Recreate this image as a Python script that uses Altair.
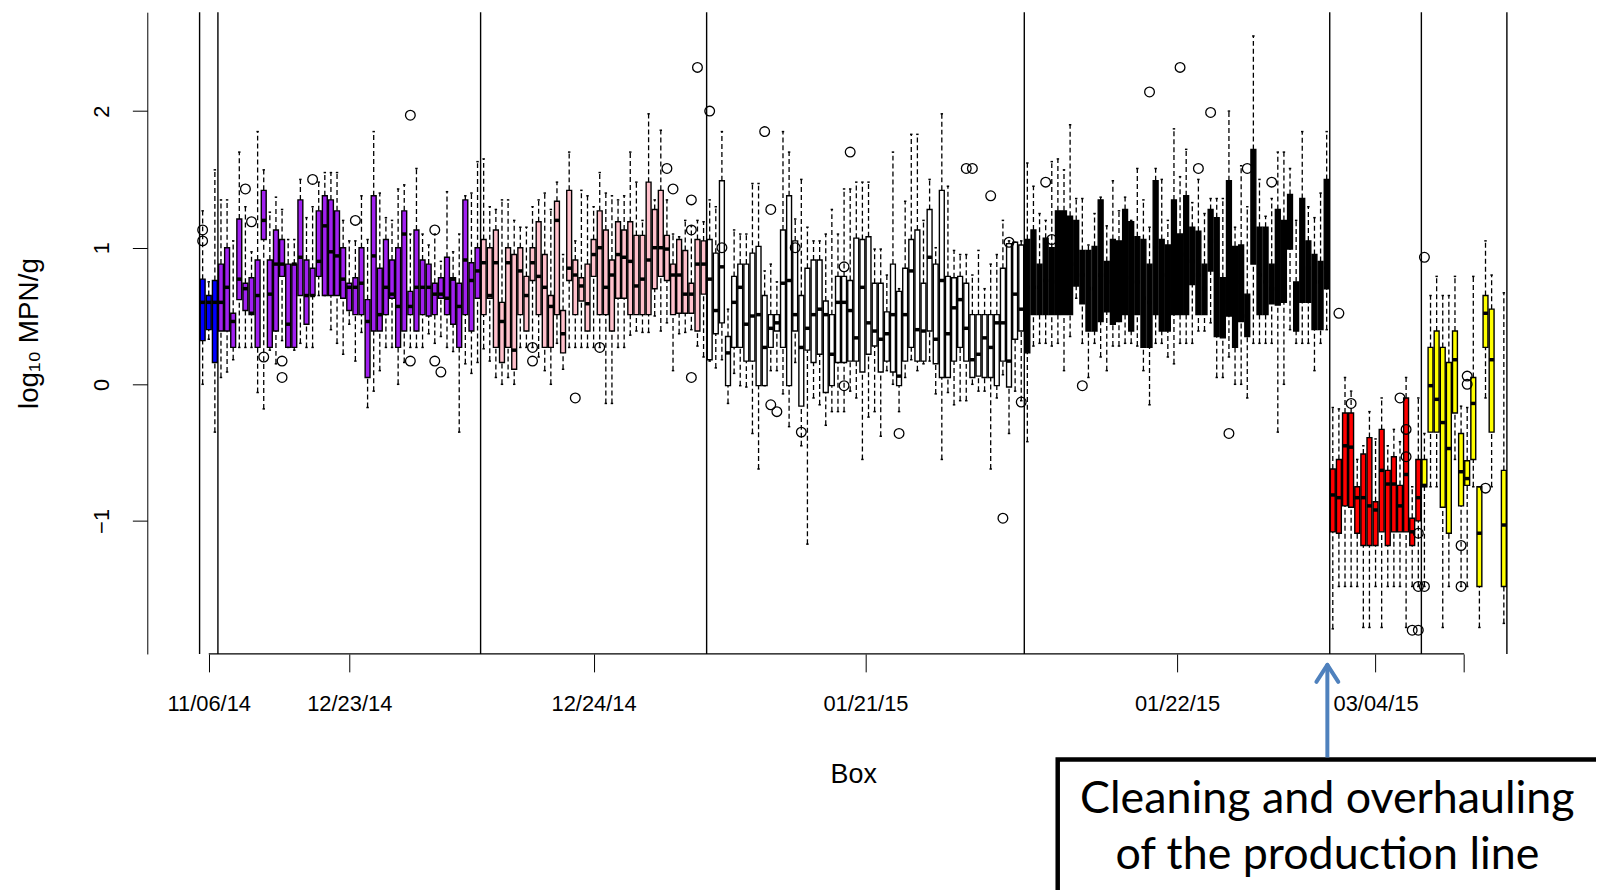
import altair as alt
import pandas as pd

# ---------------- data ----------------
GROUP_KEYS = ["blue", "purple", "pink", "white", "black", "red", "yellow"]
GROUP_COLORS = ["#0000FF", "#A020F0", "#FFC0CB", "#FFFFFF", "#000000", "#FF0000", "#FFFF00"]
GROUP_DATES = ["11/06/14", "12/23/14", "12/24/14", "01/21/15", "01/22/15", "03/04/15", ""]

# each box: (lower whisker, Q1, median, Q3, upper whisker); None = empty slot
BLUE = [(0.00, 0.32, 0.60, 0.77, 1.27), (0.33, 0.40, 0.60, 0.65, 0.75), (-0.35, 0.16, 0.60, 0.76, 1.57)]

PURPLE = [
    (0.05, 0.39, 0.60, 0.88, 1.35), (0.09, 0.39, 0.71, 1.00, 1.35), (0.18, 0.27, 0.46, 0.52, 1.05),
    (0.27, 0.62, 0.77, 1.21, 1.70), (0.27, 0.54, 0.70, 0.74, 1.30), (0.27, 0.51, 0.52, 0.78, 0.97),
    (-0.06, 0.27, 0.65, 0.91, 1.85), (-0.18, 1.06, 1.20, 1.42, 1.57), (0.25, 0.27, 0.66, 0.91, 1.26),
    (0.15, 0.39, 0.88, 1.13, 1.37), (0.32, 0.79, 0.88, 1.06, 1.28), (0.27, 0.27, 0.44, 0.88, 1.06),
    (0.25, 0.27, 0.88, 0.88, 1.06), (0.30, 0.65, 0.93, 1.35, 1.50), (0.27, 0.44, 0.65, 0.91, 1.22),
    (0.27, 0.65, 0.65, 0.85, 1.30), (0.65, 0.79, 0.90, 1.27, 1.48), (0.65, 0.65, 1.16, 1.38, 1.55),
    (0.40, 0.65, 0.97, 1.35, 1.55), (0.30, 0.65, 0.94, 1.27, 1.55), (0.22, 0.63, 0.77, 1.00, 1.20),
    (0.44, 0.54, 0.71, 0.74, 1.05), (0.17, 0.51, 0.71, 0.78, 1.05), (0.38, 0.51, 0.74, 1.00, 1.38),
    (-0.17, 0.05, 0.46, 0.62, 1.06), (-0.05, 0.39, 0.94, 1.38, 1.85), (0.10, 0.39, 0.51, 0.85, 1.40),
    (0.27, 0.51, 0.71, 1.06, 1.22), (0.27, 0.63, 0.66, 0.91, 1.20), (0.00, 0.27, 0.57, 1.00, 1.43),
    (0.16, 0.39, 1.10, 1.27, 1.46), (0.27, 0.51, 0.57, 0.68, 1.10), (0.27, 0.39, 0.71, 1.13, 1.58),
    (0.27, 0.51, 0.71, 0.91, 1.10), (0.37, 0.50, 0.71, 0.88, 1.02), (0.30, 0.51, 0.66, 0.74, 1.10),
    (0.35, 0.63, 0.66, 0.78, 0.90), (0.27, 0.51, 0.63, 0.93, 1.41), (0.24, 0.44, 0.77, 0.78, 0.97),
    (-0.35, 0.27, 0.57, 0.74, 1.10), (0.15, 0.51, 0.91, 1.35, 1.38), (0.08, 0.39, 0.76, 0.89, 1.40),
    (0.16, 0.63, 0.83, 1.00, 1.63),
]

PINK = [
    (0.26, 0.51, 0.89, 1.06, 1.65), (0.17, 0.63, 0.65, 1.00, 1.30), (0.05, 0.27, 0.89, 1.13, 1.28),
    (0.00, 0.16, 0.46, 0.60, 1.35), (0.05, 0.27, 0.89, 1.00, 1.35), (0.00, 0.11, 0.25, 0.95, 1.20),
    (0.27, 0.51, 0.83, 1.00, 1.15), (0.27, 0.39, 0.65, 0.79, 1.15), (0.27, 0.76, 0.89, 1.00, 1.30),
    (0.20, 0.51, 0.79, 1.19, 1.35), (0.10, 0.27, 0.71, 0.95, 1.40), (0.00, 0.27, 0.57, 0.65, 1.28),
    (0.30, 0.51, 1.20, 1.34, 1.48), (0.11, 0.23, 0.37, 0.54, 0.95), (0.27, 0.76, 0.85, 1.42, 1.70),
    (0.27, 0.51, 0.80, 0.91, 1.05), (0.27, 0.61, 0.72, 0.78, 1.42), (0.27, 0.39, 0.59, 0.88, 1.38),
    (0.27, 0.79, 0.95, 1.06, 1.30), (0.27, 0.51, 1.00, 1.27, 1.55), (-0.14, 0.51, 0.71, 1.13, 1.40),
    (-0.14, 0.39, 0.80, 0.91, 1.38), (0.27, 0.63, 0.95, 1.19, 1.35), (0.27, 0.63, 0.93, 1.13, 1.38),
    (0.36, 0.51, 0.90, 1.19, 1.70), (0.39, 0.51, 0.72, 1.09, 1.48), (0.38, 0.51, 0.77, 1.09, 1.20),
    (0.38, 0.51, 0.91, 1.48, 1.98), (0.50, 0.70, 1.00, 1.28, 1.35), (0.39, 0.79, 1.00, 1.42, 1.86),
    (0.45, 0.76, 0.99, 1.09, 1.35), (0.10, 0.51, 0.80, 0.88, 1.10), (0.37, 0.52, 0.80, 1.06, 1.08),
    (0.38, 0.52, 0.66, 0.98, 1.20), (0.40, 0.52, 0.66, 0.74, 1.16), (0.28, 0.39, 0.88, 1.06, 1.20),
    (0.20, 0.66, 0.88, 1.05, 1.19),
]

WHITE = [
    (0.17, 0.18, 0.77, 1.06, 1.35), (0.12, 0.37, 0.54, 0.96, 1.30), (0.18, 0.45, 0.86, 1.49, 1.85),
    (-0.14, -0.01, 0.23, 0.35, 0.55), (0.08, 0.27, 0.60, 0.79, 1.13), (-0.01, 0.27, 0.71, 0.88, 1.10),
    (-0.02, 0.17, 0.44, 0.88, 1.10), (-0.36, 0.17, 0.50, 0.96, 1.47), (-0.62, -0.01, 0.51, 1.01, 1.47),
    (-0.01, -0.01, 0.27, 0.65, 0.83), (0.10, 0.27, 0.41, 0.51, 0.88), (0.10, 0.39, 0.45, 0.51, 0.75),
    (-0.07, 0.27, 0.74, 1.13, 1.85), (-0.31, -0.01, 0.76, 1.38, 1.70), (0.16, 0.39, 0.51, 1.05, 1.21),
    (-0.45, -0.16, 0.27, 0.65, 1.50), (-1.17, 0.25, 0.41, 0.85, 1.15), (-0.10, 0.16, 0.51, 0.91, 1.05),
    (-0.15, 0.22, 0.55, 0.91, 1.05), (-0.30, -0.06, 0.51, 0.61, 1.10), (-0.20, -0.01, 0.22, 0.51, 1.28),
    (-0.20, 0.16, 0.60, 0.79, 1.10), (-0.20, 0.16, 0.60, 0.79, 1.43), (-0.05, 0.17, 0.54, 0.76, 1.43),
    (-0.10, 0.17, 0.34, 1.07, 1.48), (-0.55, 0.09, 0.71, 1.06, 1.48), (-0.24, 0.22, 0.45, 1.08, 1.48),
    (-0.20, 0.28, 0.39, 0.74, 0.99), (-0.38, 0.09, 0.33, 0.74, 0.99), (0.10, 0.17, 0.37, 0.53, 0.80),
    (0.00, 0.09, 0.51, 0.88, 1.70), (-0.20, -0.01, 0.06, 0.68, 0.70), (0.05, 0.17, 0.51, 0.85, 1.34),
    (0.18, 0.27, 0.83, 1.06, 1.83), (0.10, 0.17, 0.40, 1.13, 1.83), (0.15, 0.17, 0.39, 0.74, 1.20),
    (0.17, 0.39, 0.93, 1.28, 1.50), (-0.07, 0.15, 0.33, 0.88, 1.00), (-0.55, 0.05, 0.76, 1.42, 1.98),
    (-0.06, 0.05, 0.37, 0.79, 1.45), (-0.15, 0.17, 0.56, 0.78, 0.98), (-0.12, 0.27, 0.62, 0.79, 0.95),
    (-0.12, 0.17, 0.41, 0.74, 0.95), (0.00, 0.05, 0.18, 0.51, 0.80), (-0.05, 0.06, 0.22, 0.51, 0.98),
    (-0.05, 0.05, 0.34, 0.51, 0.70), (-0.62, 0.05, 0.27, 0.51, 0.88), (-0.10, -0.01, 0.45, 0.51, 0.95),
    (0.07, 0.17, 0.45, 0.85, 1.20), (-0.36, -0.02, 0.17, 1.03, 1.05), (-0.05, 0.33, 0.66, 1.04, 1.04),
    (-0.12, 0.39, 0.55, 1.02, 1.05),
]

BLACK = [
    (-0.42, 0.23, 0.71, 1.06, 1.62), (0.28, 0.51, 0.71, 1.13, 1.45), (0.30, 0.51, 0.71, 0.88, 1.25),
    (0.30, 0.51, 0.76, 1.07, 1.20), (0.28, 0.51, 0.75, 1.00, 1.63), (0.30, 0.51, 1.05, 1.27, 1.65),
    (0.10, 0.51, 1.05, 1.27, 1.57), (0.35, 0.51, 1.05, 1.23, 1.90), (0.63, 0.72, 0.88, 1.20, 1.36),
    (0.30, 0.59, 0.80, 0.98, 1.36), (0.05, 0.39, 0.70, 0.98, 1.02), (0.30, 0.39, 0.70, 1.01, 1.25),
    (0.20, 0.46, 0.80, 1.35, 1.37), (0.10, 0.53, 0.75, 0.90, 1.16), (0.28, 0.44, 0.75, 1.06, 1.49),
    (0.28, 0.46, 0.80, 1.05, 1.27), (0.30, 0.51, 0.88, 1.28, 1.37), (0.30, 0.39, 0.78, 1.19, 1.20),
    (0.28, 0.51, 0.75, 1.08, 1.58), (0.10, 0.27, 0.63, 1.06, 1.35), (-0.15, 0.27, 0.60, 0.88, 1.15),
    (0.30, 0.51, 1.00, 1.49, 1.58), (0.30, 0.39, 0.80, 1.06, 1.50), (0.20, 0.39, 0.65, 1.02, 1.20),
    (0.15, 0.51, 0.90, 1.35, 1.87), (0.30, 0.51, 0.80, 1.10, 1.52), (0.30, 0.51, 0.95, 1.38, 1.72),
    (0.30, 0.73, 0.90, 1.15, 1.33), (0.39, 0.51, 0.80, 1.12, 1.50), (0.39, 0.51, 0.70, 0.88, 1.25),
    (0.45, 0.83, 1.05, 1.28, 1.36), (0.05, 0.35, 0.80, 1.22, 1.36), (0.05, 0.34, 0.60, 0.78, 1.36),
    (0.20, 0.50, 1.00, 1.49, 2.00), (0.00, 0.27, 0.70, 1.01, 1.15), (0.00, 0.46, 0.75, 1.02, 1.60),
    (-0.10, 0.35, 0.50, 0.66, 1.30), (0.30, 0.88, 1.20, 1.72, 2.55), (0.30, 0.51, 0.80, 1.15, 1.50),
    (0.30, 0.51, 0.75, 1.15, 1.23), (0.30, 0.59, 0.70, 0.88, 1.36), (-0.35, 0.58, 0.90, 1.28, 1.70),
    (0.00, 0.60, 0.80, 1.20, 1.70), (0.40, 0.99, 1.20, 1.39, 1.58), (0.30, 0.39, 0.55, 0.75, 1.20),
    (0.30, 0.60, 1.00, 1.36, 1.85), (0.30, 0.60, 0.85, 1.05, 1.30), (0.10, 0.40, 0.75, 0.95, 1.22),
    (0.30, 0.40, 0.75, 0.90, 1.40), (0.40, 0.70, 0.85, 1.50, 1.85),
]

RED = [
    (-1.79, -1.08, -0.81, -0.62, -0.17), (-1.48, -1.09, -0.83, -0.55, -0.18), (-1.48, -0.89, -0.45, -0.21, 0.05),
    (-1.48, -0.90, -0.46, -0.21, -0.05), (-1.48, -1.09, -0.83, -0.75, -0.55), (-1.78, -1.18, -0.83, -0.51, -0.45),
    (-1.78, -1.18, -0.89, -0.39, -0.20), (-1.48, -1.18, -0.92, -0.86, -0.40), (-1.78, -1.08, -0.63, -0.33, -0.10),
    (-1.48, -1.18, -0.73, -0.63, -0.45), (-1.48, -1.08, -0.73, -0.53, -0.33), (-1.48, -1.08, -0.89, -0.74, -0.42),
    (-1.78, -1.08, -0.66, -0.10, 0.05), (-1.48, -1.18, -1.08, -0.98, -0.75), (-1.48, -1.00, -0.83, -0.55, -0.10),
]

YELLOW = [
    (-1.48, -0.75, -0.74, -0.55, -0.36), (-0.75, -0.35, -0.01, 0.27, 0.65), (-0.75, -0.35, -0.11, 0.39, 0.79),
    (-1.78, -0.90, -0.28, 0.27, 0.65), (-1.48, -1.09, -0.47, 0.16, 0.65), (-0.55, -0.21, 0.18, 0.39, 0.79),
    (-1.48, -0.89, -0.64, -0.36, -0.16), (-1.48, -0.74, -0.69, -0.56, -0.17), (-0.75, -0.55, -0.14, 0.05, 0.79),
    (-1.78, -1.48, -1.09, -0.75, -0.75), (-0.10, 0.27, 0.52, 0.65, 1.05), (-0.75, -0.35, 0.18, 0.55, 0.80),
    None, (-1.75, -1.48, -1.03, -0.63, 0.67),
]

GROUPS = [BLUE, PURPLE, PINK, WHITE, BLACK, RED, YELLOW]

# outliers: (box number, log10 MPN/g)
OUTLIERS = [
    (1, 1.13), (1, 1.05), (8, 1.43), (9, 1.19), (11, 0.20), (14, 0.17), (14, 0.05), (19, 1.50),
    (26, 1.20), (35, 1.97), (35, 0.17), (39, 1.13), (39, 0.17), (40, 0.09), (55, 0.27), (55, 0.17),
    (62, -0.10), (66, 0.27), (77, 1.58), (78, 1.43), (81, 1.35), (81, 1.13), (81, 0.05), (82, 2.32),
    (84, 2.00), (86, 1.00), (93, 1.85), (94, 1.28), (94, -0.15), (95, -0.20), (98, 1.00), (99, -0.35),
    (106, 0.86), (106, -0.01), (107, 1.70), (115, -0.36), (126, 1.58), (127, 1.58), (130, 1.38),
    (132, -0.98), (133, 1.04), (135, -0.13), (139, 1.48), (140, 1.06), (145, -0.01), (156, 2.14),
    (161, 2.32), (164, 1.58), (166, 1.99), (169, -0.36), (172, 1.58), (176, 1.48), (187, 0.52),
    (189, -0.14), (197, -0.10), (198, -0.33), (198, -0.53), (199, -1.80), (200, -1.80), (200, -1.09),
    (200, -1.48), (201, -1.48), (201, 0.93), (207, -1.18), (207, -1.48), (208, 0.06), (208, 0.00),
    (211, -0.76),
]

# ---------------- build tables ----------------
rows, centers, bounds = [], [], [0.5]
n = 0
for key, boxes in zip(GROUP_KEYS, GROUPS):
    start = n + 1
    for b in boxes:
        n += 1
        if b is None:
            continue
        lo, q1, med, q3, hi = b
        rows.append(dict(box=n, group=key, lo=lo, q1=q1, med=med, q3=q3, hi=hi,
                         bl=n - 0.4, br=n + 0.4, sl=n - 0.2, sr=n + 0.2))
    centers.append((start + n) / 2)
    bounds.append(n + 0.5)

df = pd.DataFrame(rows)
odf = pd.DataFrame(OUTLIERS, columns=["box", "value"])
bdf = pd.DataFrame({"b": bounds})
adf = pd.DataFrame({"x0": [centers[0]], "x1": [centers[-1]]})

vals = list(df["lo"]) + list(df["hi"]) + list(odf["value"])
ymin, ymax = min(vals), max(vals)
ext = 0.04 * (ymax - ymin)
XMIN, XMAX = 0.5 - 0.04 * n, n + 0.5 + 0.04 * n
YMIN, YMAX = ymin - ext, ymax + ext

W, H = 1419, 645
AXF = "Liberation Sans, Arial, sans-serif"

XS = alt.Scale(domain=[XMIN, XMAX], nice=False, zero=False)
YS = alt.Scale(domain=[YMIN, YMAX], nice=False, zero=False)

label_expr = " : ".join(f"datum.value == {c} ? '{d}'" for c, d in zip(centers, GROUP_DATES)) + " : ''"

X_AXIS = alt.Axis(values=centers, labelExpr=label_expr, title="Box", grid=False, domain=False,
                  tickSize=18, tickColor="black", tickWidth=1,
                  labelFont=AXF, labelFontSize=22, labelColor="black", labelPadding=22,
                  labelOverlap=False, labelFlush=False,
                  titleFont=AXF, titleFontSize=27, titleFontWeight="normal", titleColor="black",
                  titleY=121, titleBaseline="middle")
Y_AXIS = alt.Axis(values=[-1, 0, 1, 2], title="log\u2081\u2080 MPN/g", grid=False,
                  domain=True, domainColor="black", domainWidth=1,
                  tickSize=15, tickColor="black", tickWidth=1,
                  labelAngle=270, labelAlign="center", labelBaseline="bottom",
                  labelFont=AXF, labelFontSize=22, labelColor="black", labelPadding=19,
                  titleFont=AXF, titleFontSize=28, titleFontWeight="normal", titleColor="black",
                  titleAngle=270, titleX=-118, titleY=H / 2, titleAlign="center",
                  titleBaseline="middle")


def X(f):
    return alt.X(f, scale=XS, axis=X_AXIS, title="Box")


def Y(f):
    return alt.Y(f, scale=YS, axis=Y_AXIS, title="log\u2081\u2080 MPN/g")


base = alt.Chart(df)
dash = dict(color="black", strokeWidth=1.3, strokeDash=[5, 3])

whisk_up = base.mark_rule(**dash).encode(x=X("box:Q"), y=Y("q3:Q"), y2="hi:Q")
whisk_dn = base.mark_rule(**dash).encode(x=X("box:Q"), y=Y("lo:Q"), y2="q1:Q")
staple_hi = base.mark_rule(color="black", strokeWidth=1.5).encode(x=X("sl:Q"), x2="sr:Q", y=Y("hi:Q"))
staple_lo = base.mark_rule(color="black", strokeWidth=1.5).encode(x=X("sl:Q"), x2="sr:Q", y=Y("lo:Q"))
boxes = base.mark_rect(stroke="black", strokeWidth=1.4).encode(
    x=X("bl:Q"), x2="br:Q", y=Y("q1:Q"), y2="q3:Q",
    color=alt.Color("group:N", scale=alt.Scale(domain=GROUP_KEYS, range=GROUP_COLORS), legend=None),
)
medians = base.mark_rule(color="black", strokeWidth=3.5).encode(x=X("bl:Q"), x2="br:Q", y=Y("med:Q"))
outliers = alt.Chart(odf).mark_point(shape="circle", filled=False, color="black",
                                     size=95, strokeWidth=1.3, opacity=1).encode(
    x=X("box:Q"), y=Y("value:Q"))
vlines = alt.Chart(bdf).mark_rule(color="black", strokeWidth=1.4).encode(x=X("b:Q"))
xline = alt.Chart(adf).mark_rule(color="black", strokeWidth=1.2).encode(
    x=X("x0:Q"), x2="x1:Q", y=alt.value(H))

# ---------------- annotation ----------------
one = pd.DataFrame({"k": [0]})
ARROW_C = "#4F81BD"
ax = 1186
ann_box = alt.Chart(one).mark_rect(fill="white", stroke="black", strokeWidth=4.5).encode(
    x=alt.value(915), x2=alt.value(1500), y=alt.value(751), y2=alt.value(950))
ann_t1 = alt.Chart(one).mark_text(font="Lato", fontSize=45, align="center", baseline="middle",
                                  color="black").encode(
    x=alt.value(ax), y=alt.value(791), text=alt.value("Cleaning and overhauling"))
ann_t2 = alt.Chart(one).mark_text(font="Lato", fontSize=45, align="center", baseline="middle",
                                  color="black").encode(
    x=alt.value(ax), y=alt.value(847), text=alt.value("of the production line"))
shaft = alt.Chart(one).mark_rule(color=ARROW_C, strokeWidth=4).encode(
    x=alt.value(ax), y=alt.value(657), y2=alt.value(749))
arm_l = alt.Chart(one).mark_rule(color=ARROW_C, strokeWidth=4, strokeCap="round").encode(
    x=alt.value(ax), x2=alt.value(ax - 11), y=alt.value(656), y2=alt.value(673))
arm_r = alt.Chart(one).mark_rule(color=ARROW_C, strokeWidth=4, strokeCap="round").encode(
    x=alt.value(ax), x2=alt.value(ax + 11), y=alt.value(656), y2=alt.value(673))

chart = alt.layer(
    whisk_up, whisk_dn, boxes, medians, staple_hi, staple_lo, outliers, vlines, xline,
    ann_box, ann_t1, ann_t2, shaft, arm_l, arm_r,
).properties(
    width=W, height=H,
    autosize=alt.AutoSizeParams(type="none"),
    padding={"left": 140, "top": 2, "right": 37, "bottom": 235},
).configure_view(stroke=None)

chart.save("out.html", embed_options={"renderer": "svg", "actions": False})
